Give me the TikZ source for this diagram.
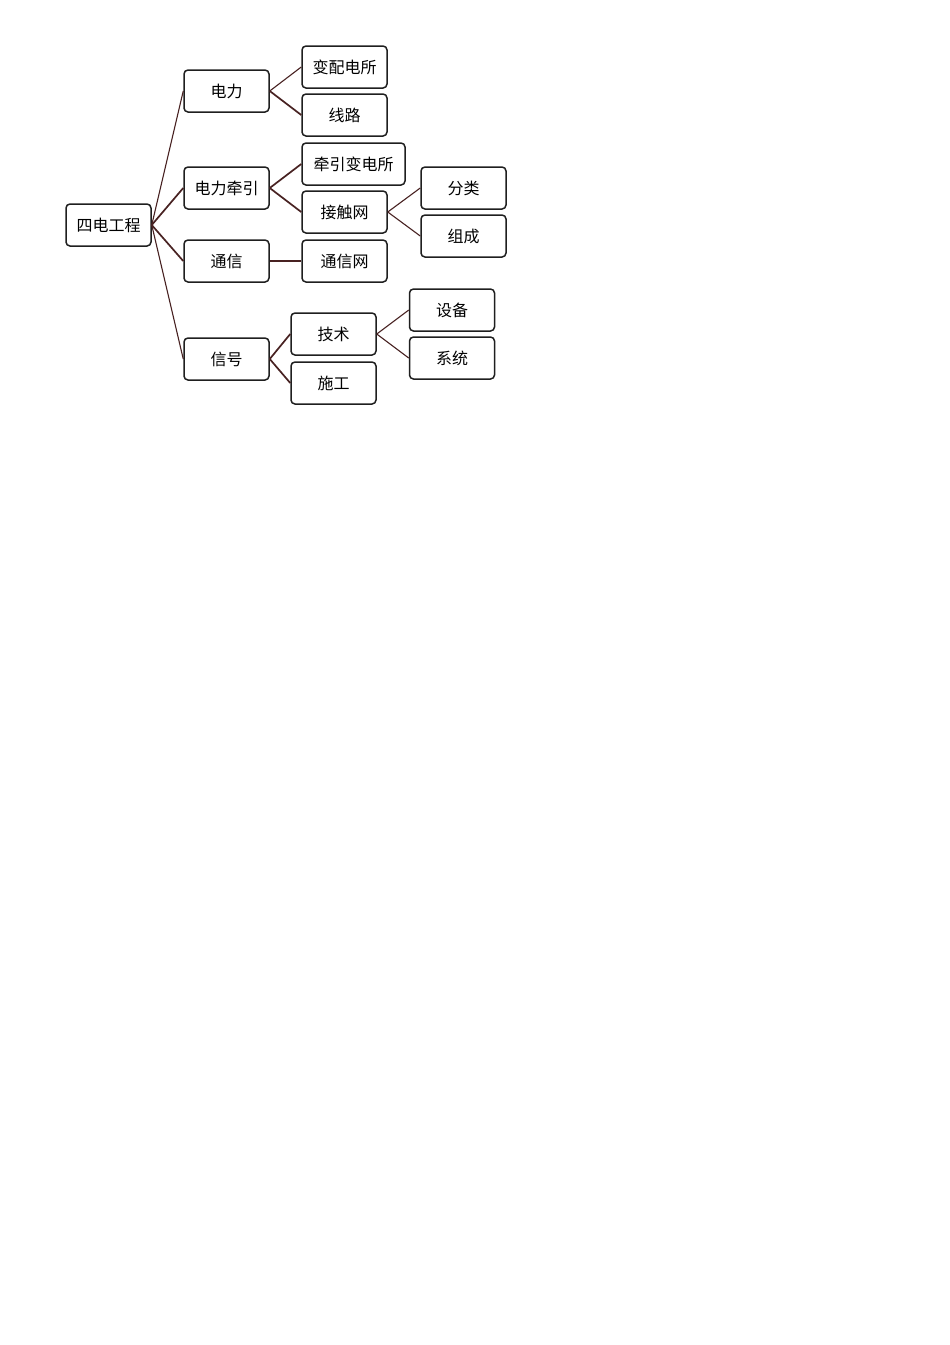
\documentclass[tikz,border=0pt]{standalone}
\usepackage{fontspec}
\newfontfamily\cjk{Noto Sans CJK SC}
\definecolor{linkcol}{RGB}{72,34,34}
\begin{document}
\begin{tikzpicture}[x=1pt,y=-1pt,
  box/.style={draw=black!88,line width=1.5pt,rounded corners=4pt,fill=white,
    minimum width=85pt,minimum height=42pt,inner sep=0pt,font=\cjk\fontsize{16}{18}\selectfont},
  wbox/.style={box,minimum width=103pt},
  link/.style={draw=linkcol,line width=1.7pt},
  thin/.style={draw=linkcol,line width=1.1pt}]
\useasboundingbox (0,0) rectangle (950,1345);
\fill[white] (0,0) rectangle (950,1345);
\node[box] (root) at (108.5,225) {四电工程};
\node[box] (dl) at (226.5,91) {电力};
\node[box] (dlqy) at (226.5,188) {电力牵引};
\node[box] (tx) at (226.5,261) {通信};
\node[box] (xh) at (226.5,359) {信号};
\node[box] (bpds) at (344.5,67) {变配电所};
\node[box] (xl) at (344.5,115) {线路};
\node[wbox] (qybds) at (353.5,164) {牵引变电所};
\node[box] (jcw) at (344.5,212) {接触网};
\node[box] (txw) at (344.5,261) {通信网};
\node[box] (fl) at (463.5,188) {分类};
\node[box] (zc) at (463.5,236) {组成};
\node[box] (js) at (333.5,334) {技术};
\node[box] (sg) at (333.5,383) {施工};
\node[box] (sb) at (452,310) {设备};
\node[box] (xt) at (452,358) {系统};
\path[thin] (root.east) -- (dl.west);
\path[link] (root.east) -- (dlqy.west);
\path[link] (root.east) -- (tx.west);
\path[thin] (root.east) -- (xh.west);
\path[thin] (dl.east) -- (bpds.west);
\path[link] (dl.east) -- (xl.west);
\path[link] (dlqy.east) -- (qybds.west);
\path[link] (dlqy.east) -- (jcw.west);
\path[link] (tx.east) -- (txw.west);
\path[thin] (jcw.east) -- (fl.west);
\path[thin] (jcw.east) -- (zc.west);
\path[link] (xh.east) -- (js.west);
\path[link] (xh.east) -- (sg.west);
\path[thin] (js.east) -- (sb.west);
\path[thin] (js.east) -- (xt.west);
\end{tikzpicture}
\end{document}
